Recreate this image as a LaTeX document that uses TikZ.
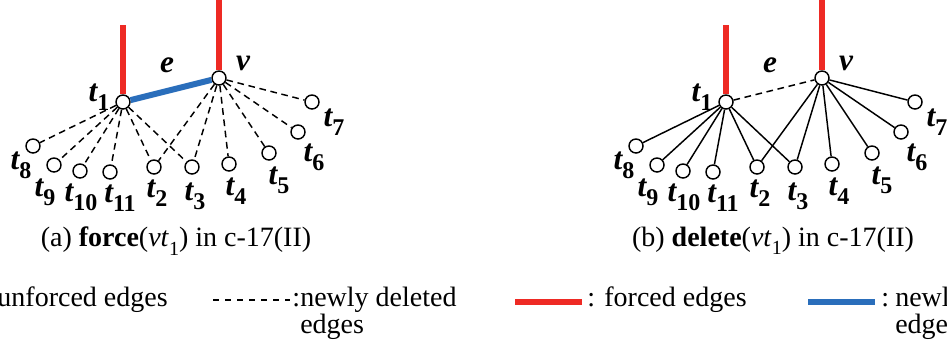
\documentclass[tikz,border=0pt]{standalone}
\usepackage{fontspec}
\setmainfont{Liberation Serif}
\definecolor{fred}{RGB}{238,42,36}
\definecolor{nblue}{RGB}{42,110,187}
\tikzset{
  vtx/.style={circle,draw,fill=white,minimum size=10.5pt,inner sep=0pt,line width=1.1pt},
  forced/.style={draw=fred,line width=4.5pt},
  newforced/.style={draw=nblue,line width=4.5pt},
  deledge/.style={draw=black,line width=1.1pt,dash pattern=on 5pt off 3.5pt},
  unfedge/.style={draw=black,line width=1.1pt},
  lab/.style={inner sep=0pt,font=\fontsize{23.5}{27}\selectfont\bfseries\itshape},
  captext/.style={inner sep=0pt,font=\fontsize{21}{25}\selectfont},
  leg/.style={inner sep=0pt,font=\fontsize{21}{22}\selectfont}
}
\newcommand\tl[1]{t\raisebox{-0.28em}{\fontsize{18}{18}\selectfont\upshape #1}}
\newcommand\capsub[1]{\raisebox{-0.3em}{\fontsize{15}{15}\selectfont #1}}
\newcommand\mypanel[4]{%
\begin{scope}[xshift=#2*0.75pt]
  \node[vtx] (#1t1) at (123,102) {};
  \node[vtx] (#1v) at (219,78) {};
  \node[vtx] (#1t8) at (33,146) {};
  \node[vtx] (#1t9) at (54,165) {};
  \node[vtx] (#1t10) at (80,171) {};
  \node[vtx] (#1t11) at (110,172) {};
  \node[vtx] (#1t2) at (154,167) {};
  \node[vtx] (#1t3) at (192,167) {};
  \node[vtx] (#1t4) at (229,164) {};
  \node[vtx] (#1t5) at (269,153) {};
  \node[vtx] (#1t6) at (298,132) {};
  \node[vtx] (#1t7) at (312,102) {};
  \coordinate (#1t1top) at (123,25);
  \coordinate (#1vtop) at (219,-2);
  \draw[forced] (#1t1top) -- (#1t1.north);
  \draw[forced] (#1vtop) -- (#1v.north);
  \draw[#4] (#1t1) -- (#1v);
  \foreach \i in {8,9,10,11,2,3} \draw[#3] (#1t1) -- (#1t\i);
  \foreach \i in {2,...,7} \draw[#3] (#1v) -- (#1t\i);
  \node[lab] (#1lt1) at (99,97) {\tl{1}};
  \node[lab] (#1lv) at (243,63) {v};
  \node[lab] (#1le) at (167,65) {e};
  \node[lab] (#1lt8) at (21,165) {\tl{8}};
  \node[lab] (#1lt9) at (45,192) {\tl{9}};
  \node[lab] (#1lt10) at (81,197) {\tl{10}};
  \node[lab] (#1lt11) at (120,198) {\tl{11}};
  \node[lab] (#1lt2) at (157,193) {\tl{2}};
  \node[lab] (#1lt3) at (195,196) {\tl{3}};
  \node[lab] (#1lt4) at (236,191) {\tl{4}};
  \node[lab] (#1lt5) at (279,180) {\tl{5}};
  \node[lab] (#1lt6) at (314,157) {\tl{6}};
  \node[lab] (#1lt7) at (334,122) {\tl{7}};
\end{scope}}
\begin{document}
\begin{tikzpicture}[x=0.75pt,y=-0.75pt]
\fill[white] (0,0) rectangle (947,347);
\useasboundingbox (0,0) rectangle (947,347);
\mypanel{a}{0}{deledge}{newforced}
\mypanel{b}{603}{unfedge}{deledge}
\node[captext] (capa) at (176,241) {(a) \textbf{force}(\textit{vt}\capsub{1}) in c-17(II)};
\node[captext] (capb) at (773,241) {(b) \textbf{delete}(\textit{vt}\capsub{1}) in c-17(II)};
% legend
\node[leg,anchor=base east] (l1) at (168,306) {unforced edges};
\coordinate (d1) at (213,300);
\coordinate (d2) at (290,300);
\draw[line width=1pt,dash pattern=on 4.5pt off 4.5pt] (d1) -- (d2);
\node[leg,anchor=base west] (l2c) at (292,306) {:};
\node[leg,anchor=base west] (l2) at (300,306) {newly deleted};
\node[leg,anchor=base west] (l2b) at (300,333) {edges};
\coordinate (r1) at (515,302);
\coordinate (r2) at (582,302);
\draw[forced] (r1) -- (r2);
\node[leg,anchor=base west] (l3) at (587,306) {: forced edges};
\coordinate (b1) at (808,302);
\coordinate (b2) at (875,302);
\draw[newforced] (b1) -- (b2);
\node[leg,anchor=base west] (l4c) at (881,306) {:};
\node[leg,anchor=base west] (l4) at (895,306) {newly forced};
\node[leg,anchor=base west] (l4b) at (895,333) {edges};
\end{tikzpicture}
\end{document}
